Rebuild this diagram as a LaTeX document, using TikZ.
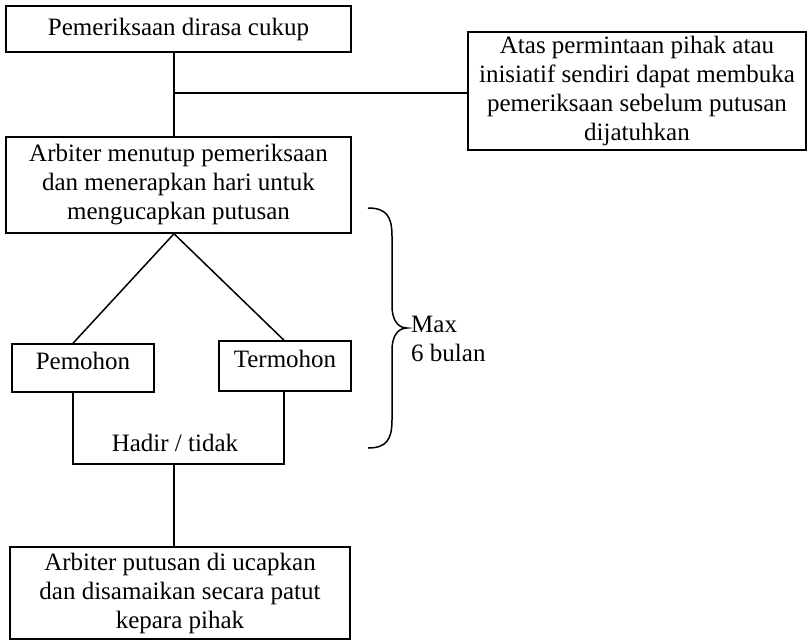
\documentclass[tikz,border=0pt]{standalone}
\usepackage{fontspec}
\setmainfont{Liberation Serif}
\begin{document}
\begin{tikzpicture}[x=1pt,y=-1pt,
  every node/.style={font=\fontsize{25}{29}\selectfont},
  boxnode/.style={draw,line width=1.5pt,inner sep=0pt,align=center},
  partybox/.style={boxnode,text depth=14pt},
  link/.style={line width=1.5pt}]
\useasboundingbox (0,0) rectangle (809,641);
% boxes
\node[boxnode,minimum width=345,minimum height=46] (b1) at (178.5,29) {Pemeriksaan dirasa cukup};
\node[boxnode,minimum width=338,minimum height=118] (b3) at (637,91)
  {Atas permintaan pihak atau\\inisiatif sendiri dapat membuka\\pemeriksaan sebelum putusan\\dijatuhkan};
\node[boxnode,minimum width=345,minimum height=96] (b2) at (178.5,185)
  {Arbiter menutup pemeriksaan\\dan menerapkan hari untuk\\mengucapkan putusan};
\node[partybox,minimum width=142,minimum height=48] (pem) at (83,368) {Pemohon};
\node[partybox,minimum width=132,minimum height=50] (ter) at (285,366) {Termohon};
\node[boxnode,minimum width=340,minimum height=92] (b4) at (180,593)
  {Arbiter putusan di ucapkan\\dan disamaikan secara patut\\kepara pihak};
% guide coordinates for the connector columns
\coordinate (sp) at (174,0);
\coordinate (j) at (174,93);
\coordinate (hl) at (73,0);
\coordinate (hr) at (284,0);
\coordinate (hb) at (174,464);
% connectors
\draw[link] (b1.south -| sp) -- (b2.north -| sp);
\draw[link] (j) -- (j -| b3.west);
\draw[link] (b2.south -| sp) -- (pem.north -| hl);
\draw[link] (b2.south -| sp) -- (ter.north -| hr);
\draw[link] (pem.south -| hl) -- (hl |- hb) -- (hr |- hb) -- (ter.south -| hr);
\node (hadir) at (175,443) {Hadir / tidak};
\draw[link] (hb) -- (b4.north -| sp);
% curly brace for the time span
\coordinate (tip) at (407,328);
\draw[link] (368,208) .. controls (386,208) and (392,216) .. (392,236) -- (392,306)
  .. controls (392,320) and (398,328) .. (tip)
  .. controls (398,328) and (392,336) .. (392,350) -- (392,420)
  .. controls (392,440) and (386,448) .. (368,448);
\node[anchor=north west,align=left,inner sep=0pt] (maxt) at ([xshift=4]tip |- 0,316) {Max\\6 bulan};
\end{tikzpicture}
\end{document}
